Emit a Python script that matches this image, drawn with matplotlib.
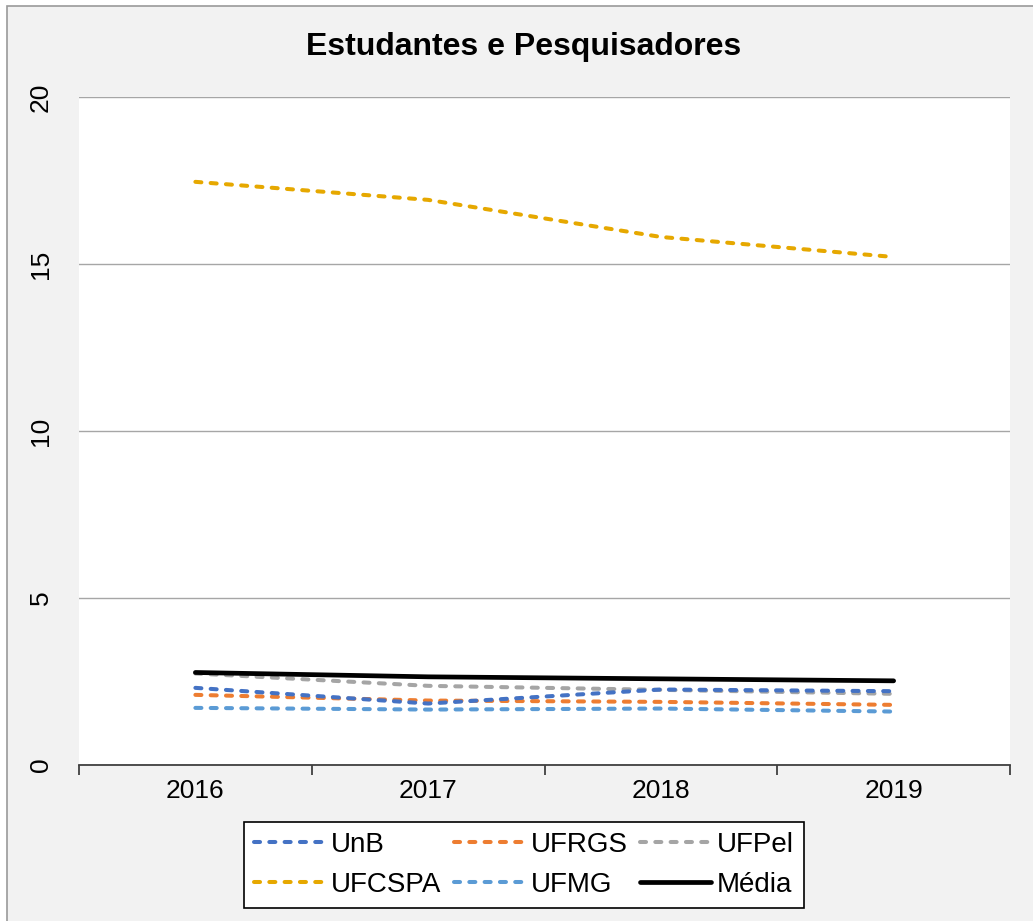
import matplotlib
matplotlib.use("Agg")
import matplotlib.pyplot as plt
from matplotlib.patches import Rectangle

plt.rcParams["font.family"] = ["Liberation Sans", "DejaVu Sans"]

years = [2016, 2017, 2018, 2019]
unb = [2.31, 1.84, 2.26, 2.21]
ufrgs = [2.10, 1.93, 1.89, 1.80]
ufpel = [2.74, 2.37, 2.25, 2.13]
ufcspa = [17.46, 16.92, 15.81, 15.21]
ufmg = [1.71, 1.66, 1.69, 1.60]
media = [2.77, 2.64, 2.58, 2.52]

BG = "#F2F2F2"

fig = plt.figure(figsize=(10.33, 9.21), dpi=100)
fig.patch.set_facecolor("white")
fig.patches.append(Rectangle((7 / 1033, -0.01), 1.0, 1 - 6 / 921 + 0.01,
                             transform=fig.transFigure, fc=BG, ec="#9A9A9A",
                             lw=1.2, zorder=-10))

ax = fig.add_axes([79 / 1033, 1 - 765 / 921, (1010 - 79) / 1033, (765 - 97) / 921])
ax.set_facecolor("white")

dash = dict(lw=2.9, dashes=(1.5, 2.3), dash_capstyle="round")
ax.plot(years, ufcspa, color="#E6A800", label="UFCSPA", **dash)
ax.plot(years, ufpel, color="#A5A5A5", label="UFPel", **dash)
ax.plot(years, ufmg, color="#5B9BD5", label="UFMG", **dash)
ax.plot(years, ufrgs, color="#ED7D31", label="UFRGS", **dash)
ax.plot(years, unb, color="#4472C4", label="UnB", **dash)
ax.plot(years, media, color="black", lw=3.4, label="Média", solid_capstyle="round")

ax.set_xlim(2015.5, 2019.5)
ax.set_ylim(0, 20)
ax.set_yticks([0, 5, 10, 15, 20])
ax.set_xticks(years)
ax.set_xticks([2015.5, 2016.5, 2017.5, 2018.5, 2019.5], minor=True)
ax.yaxis.grid(True, color="#A6A6A6", lw=1.0)
ax.set_axisbelow(True)
for s in ["top", "left", "right"]:
    ax.spines[s].set_visible(False)
ax.spines["bottom"].set_color("#404040")
ax.spines["bottom"].set_linewidth(1.3)
ax.tick_params(axis="x", which="major", length=0, pad=10, labelsize=19)
ax.tick_params(axis="x", which="minor", length=7, width=1.3, color="#404040")
ax.tick_params(axis="y", length=0, pad=19, labelsize=19)
for t in ax.get_yticklabels():
    t.set_rotation(90)
    t.set_va("center")

fig.text(0.507, 1 - 47 / 921, "Estudantes e Pesquisadores", ha="center",
         va="center", fontsize=23, fontweight="bold")

h, l = ax.get_legend_handles_labels()
order = ["UnB", "UFCSPA", "UFRGS", "UFMG", "UFPel", "Média"]
hd = dict(zip(l, h))
leg = fig.legend([hd[k] for k in order], order, loc="center",
                 bbox_to_anchor=(524 / 1033, 1 - 865 / 921), ncol=3,
                 fontsize=20, frameon=True, fancybox=False, handlelength=2.55,
                 handletextpad=0.22, columnspacing=0.45, labelspacing=0.5,
                 borderpad=0.35, borderaxespad=0)
leg.get_frame().set_edgecolor("black")
leg.get_frame().set_linewidth(1.2)
leg.get_frame().set_facecolor("white")
leg.get_frame().set_alpha(1)

fig.savefig("out.png", dpi=100, facecolor="white")
